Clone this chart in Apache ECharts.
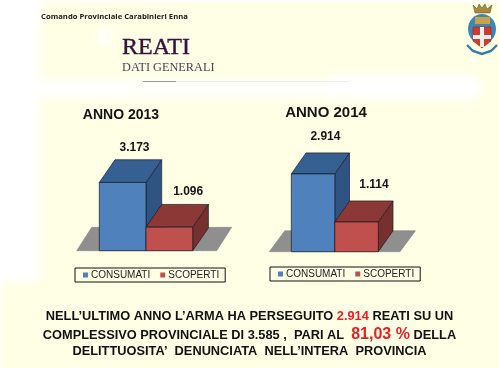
<!DOCTYPE html>
<html><head><meta charset="utf-8">
<style>html,body{margin:0;padding:0;background:#fff}#c{width:499px;height:368px}</style>
<script src="https://cdn.jsdelivr.net/npm/echarts@6/dist/echarts.min.js"></script>
</head><body><div id="c"></div>
<script>
var categories = ['CONSUMATI', 'SCOPERTI'];
var values2013 = [3173, 1096];
var values2014 = [2914, 1114];
var yearTitles = ['ANNO 2013', 'ANNO 2014'];

var FRONT = ['#4f81bd', '#c0504d'], TOP = ['#376092', '#8c3836'], SIDE = ['#2f5484', '#77302e'];
var INK = '#1b1b22', FF = '"Liberation Sans",Arial,sans-serif', SERIF = '"Liberation Serif","Times New Roman",serif';
var LOOK = [
  {dx: 15.7, dy: 22.7, gap: 12.3, off: [4, 11], floor: {l: 22.6, r: 24, t: 15, d: 23.4}},
  {dx: 14.7, dy: 21, gap: 16, off: [5, 10], floor: {l: 22, r: 21.7, t: 15.5, d: 21}}
];
function fmt(v) { return String(v).replace(/\B(?=(\d{3})+$)/g, '.'); }

function floorSeries(g) {
  return {type: 'custom', name: 'piano', xAxisIndex: g, yAxisIndex: g, data: [[0, 0]], silent: true, z: 1,
    renderItem: function (p, api) {
      var f = LOOK[g].floor, c = p.coordSys, b = c.y + c.height, a = c.x, e = c.x + c.width;
      return {type: 'polygon', shape: {points: [[a - f.l, b], [e + f.r, b], [e + f.r + f.t, b - f.d], [a - f.l + f.t, b - f.d]]},
        style: {fill: '#8f8f8f', stroke: '#7c7c7c', lineWidth: .5}};
    }};
}
function barSeries(g, i, vals) {
  return {type: 'custom', name: categories[i], xAxisIndex: g, yAxisIndex: g, z: 2 + i,
    itemStyle: {color: FRONT[i]}, data: [[i, vals[i]]], silent: true,
    renderItem: function (p, api) {
      var L = LOOK[g], w = api.size([1, 0])[0], top = api.coord([api.value(0), api.value(1)]),
          base = api.coord([api.value(0), 0]), x0 = top[0] - w / 2, x1 = top[0] + w / 2, y0 = top[1], y1 = base[1];
      var st = function (fill) { return {fill: fill, stroke: INK, lineWidth: .7}; };
      return {type: 'group', children: [
        {type: 'polygon', shape: {points: [[x1, y0], [x1 + L.dx, y0 - L.dy], [x1 + L.dx, y1 - L.dy], [x1, y1]]}, style: st(SIDE[i])},
        {type: 'polygon', shape: {points: [[x0, y0], [x0 + L.dx, y0 - L.dy], [x1 + L.dx, y0 - L.dy], [x1, y0]]}, style: st(TOP[i])},
        {type: 'rect', shape: {x: x0, y: y0, width: w, height: y1 - y0}, style: st(FRONT[i])},
        {type: 'text', style: {text: fmt(api.value(1)), x: top[0] + L.dx / 2 + L.off[i], y: y0 - L.dy - L.gap,
          align: 'center', verticalAlign: 'middle', font: 'bold 12px ' + FF, fill: '#141414'}}
      ]};
    }};
}
function legend(left, top, gap) {
  return {data: categories, left: left, top: top, orient: 'horizontal', icon: 'rect', itemWidth: 5, itemHeight: 5,
    itemGap: gap, padding: [2, 6, 2, 8], borderColor: '#111', borderWidth: 1, backgroundColor: 'transparent',
    selectedMode: false, textStyle: {fontFamily: FF, fontSize: 10, color: '#222', padding: [0, 0, 0, -2]}};
}

// sfondo: giallo pallido con zone bianche sfumate
var paper = document.createElement('canvas');
paper.width = 499; paper.height = 368;
var ctx = paper.getContext('2d');
ctx.fillStyle = '#ffffe6'; ctx.fillRect(0, 0, 499, 368);
ctx.fillStyle = '#fff';
ctx.filter = 'blur(5px)';
ctx.fillRect(-30, -30, 70, 312);
ctx.fillRect(-30, 80, 510, 17);
ctx.fillRect(330, 76, 148, 20);
ctx.beginPath(); ctx.arc(105, 36, 8, 0, 7); ctx.fill();
ctx.filter = 'blur(1px)';
ctx.fillRect(-5, -5, 510, 7);
ctx.fillStyle = 'rgba(255,255,255,.6)';
ctx.fillRect(-5, 280, 8, 100);
ctx.filter = 'none';
var bg = [
  {type: 'image', style: {image: paper, x: 0, y: 0, width: 499, height: 368}, z: -10},
  {type: 'line', shape: {x1: 140, y1: 81.5, x2: 350, y2: 81.5}, style: {stroke: '#e8e8e8', lineWidth: .7}, z: -7},
  {type: 'line', shape: {x1: 143, y1: 81.5, x2: 176, y2: 81.5}, style: {stroke: '#9a9a9a', lineWidth: 1}, z: -7}
];
// stemma
var crest = [
  {type: 'polygon', shape: {points: [[473,5],[477,9],[479,4],[482,8],[485,4],[487,9],[492,5],[490,13],[475,13]]}, style: {fill: '#a88a3a', stroke: '#5a4a20', lineWidth: .5}},
  {type: 'ellipse', shape: {cx: 482, cy: 29, rx: 14, ry: 15}, style: {fill: '#3f86b8'}},
  {type: 'rect', shape: {x: 475, y: 17, width: 15, height: 7}, style: {fill: '#c9a24a'}},
  {type: 'polygon', shape: {points: [[473,27],[491,27],[491,41],[482,48],[473,41]]}, style: {fill: '#d23a30', stroke: '#8a1f1a', lineWidth: .5}},
  {type: 'rect', shape: {x: 480, y: 27, width: 4, height: 20}, style: {fill: '#f4f0e8'}},
  {type: 'rect', shape: {x: 473, y: 35, width: 18, height: 4}, style: {fill: '#f4f0e8'}},
  {type: 'polyline', shape: {points: [[467,45],[473,51],[482,54],[491,51],[497,45]]}, style: {stroke: '#2f7fa8', fill: 'none', lineWidth: 2.4}}
].map(function (o) { o.z = 5; return o; });
// testi
function txt(t, x, y, font, fill, align, extra) {
  var s = {text: t, x: x, y: y, font: font, fill: fill, align: align || 'left', verticalAlign: 'middle'};
  for (var k in extra || {}) s[k] = extra[k];
  return {type: 'text', style: s, z: 6};
}
var rich = {b: {font: 'bold 12.8px ' + FF, fill: '#111'}, r: {font: 'bold 12.8px ' + FF, fill: '#ee1c25'}, R: {font: 'bold 16px ' + FF, fill: '#ee1c25'}};
function line(t, y) { return {type: 'text', z: 6, style: {text: t, x: 249.5, y: y, align: 'center', verticalAlign: 'middle', rich: rich}}; }
var texts = [
  txt('Comando Provinciale Carabinieri Enna', 41, 16.5, 'bold 7.7px "Open Sans",sans-serif', '#1a1a1a'),
  txt('REATI', 122, 47.5, '24px ' + SERIF, '#3a1040', 'left', {stroke: '#3a1040', lineWidth: .4}),
  txt('DATI GENERALI', 122, 67.5, '12.3px ' + SERIF, '#4c3d58'),
  txt(yearTitles[0], 121, 115, 'bold 14px ' + FF, '#141414', 'center'),
  txt(yearTitles[1], 326, 113, 'bold 15px ' + FF, '#141414', 'center'),
  line('{b|NELL\u2019ULTIMO ANNO L\u2019ARMA HA PERSEGUITO }{r|2.914}{b| REATI SU UN}', 316.5),
  line('{b|COMPLESSIVO PROVINCIALE DI 3.585 ,  PARI AL  }{R|81,03 %}{b| DELLA}', 335),
  line('{b|DELITTUOSITA\u2019  DENUNCIATA  NELL\u2019INTERA  PROVINCIA}', 351.5)
];

var chart = echarts.init(document.getElementById('c'), null, {renderer: 'canvas'});
chart.setOption({
  animation: false,
  backgroundColor: '#fff',
  grid: [
    {left: 99.3, width: 93.4, top: 164.7, height: 86},
    {left: 291.3, width: 87, top: 144.9, height: 106.8}
  ],
  xAxis: [0, 1].map(function (g) { return {type: 'category', gridIndex: g, data: categories, show: false}; }),
  yAxis: [0, 1].map(function (g) { return {type: 'value', gridIndex: g, min: 0, max: 4000, interval: 1000, show: false}; }),
  legend: [legend(75, 268, 10), legend(270, 267, 10)],
  series: [
    floorSeries(0), barSeries(0, 0, values2013), barSeries(0, 1, values2013),
    floorSeries(1), barSeries(1, 0, values2014), barSeries(1, 1, values2014)
  ],
  graphic: bg.concat(crest, texts)
});
</script></body></html>
